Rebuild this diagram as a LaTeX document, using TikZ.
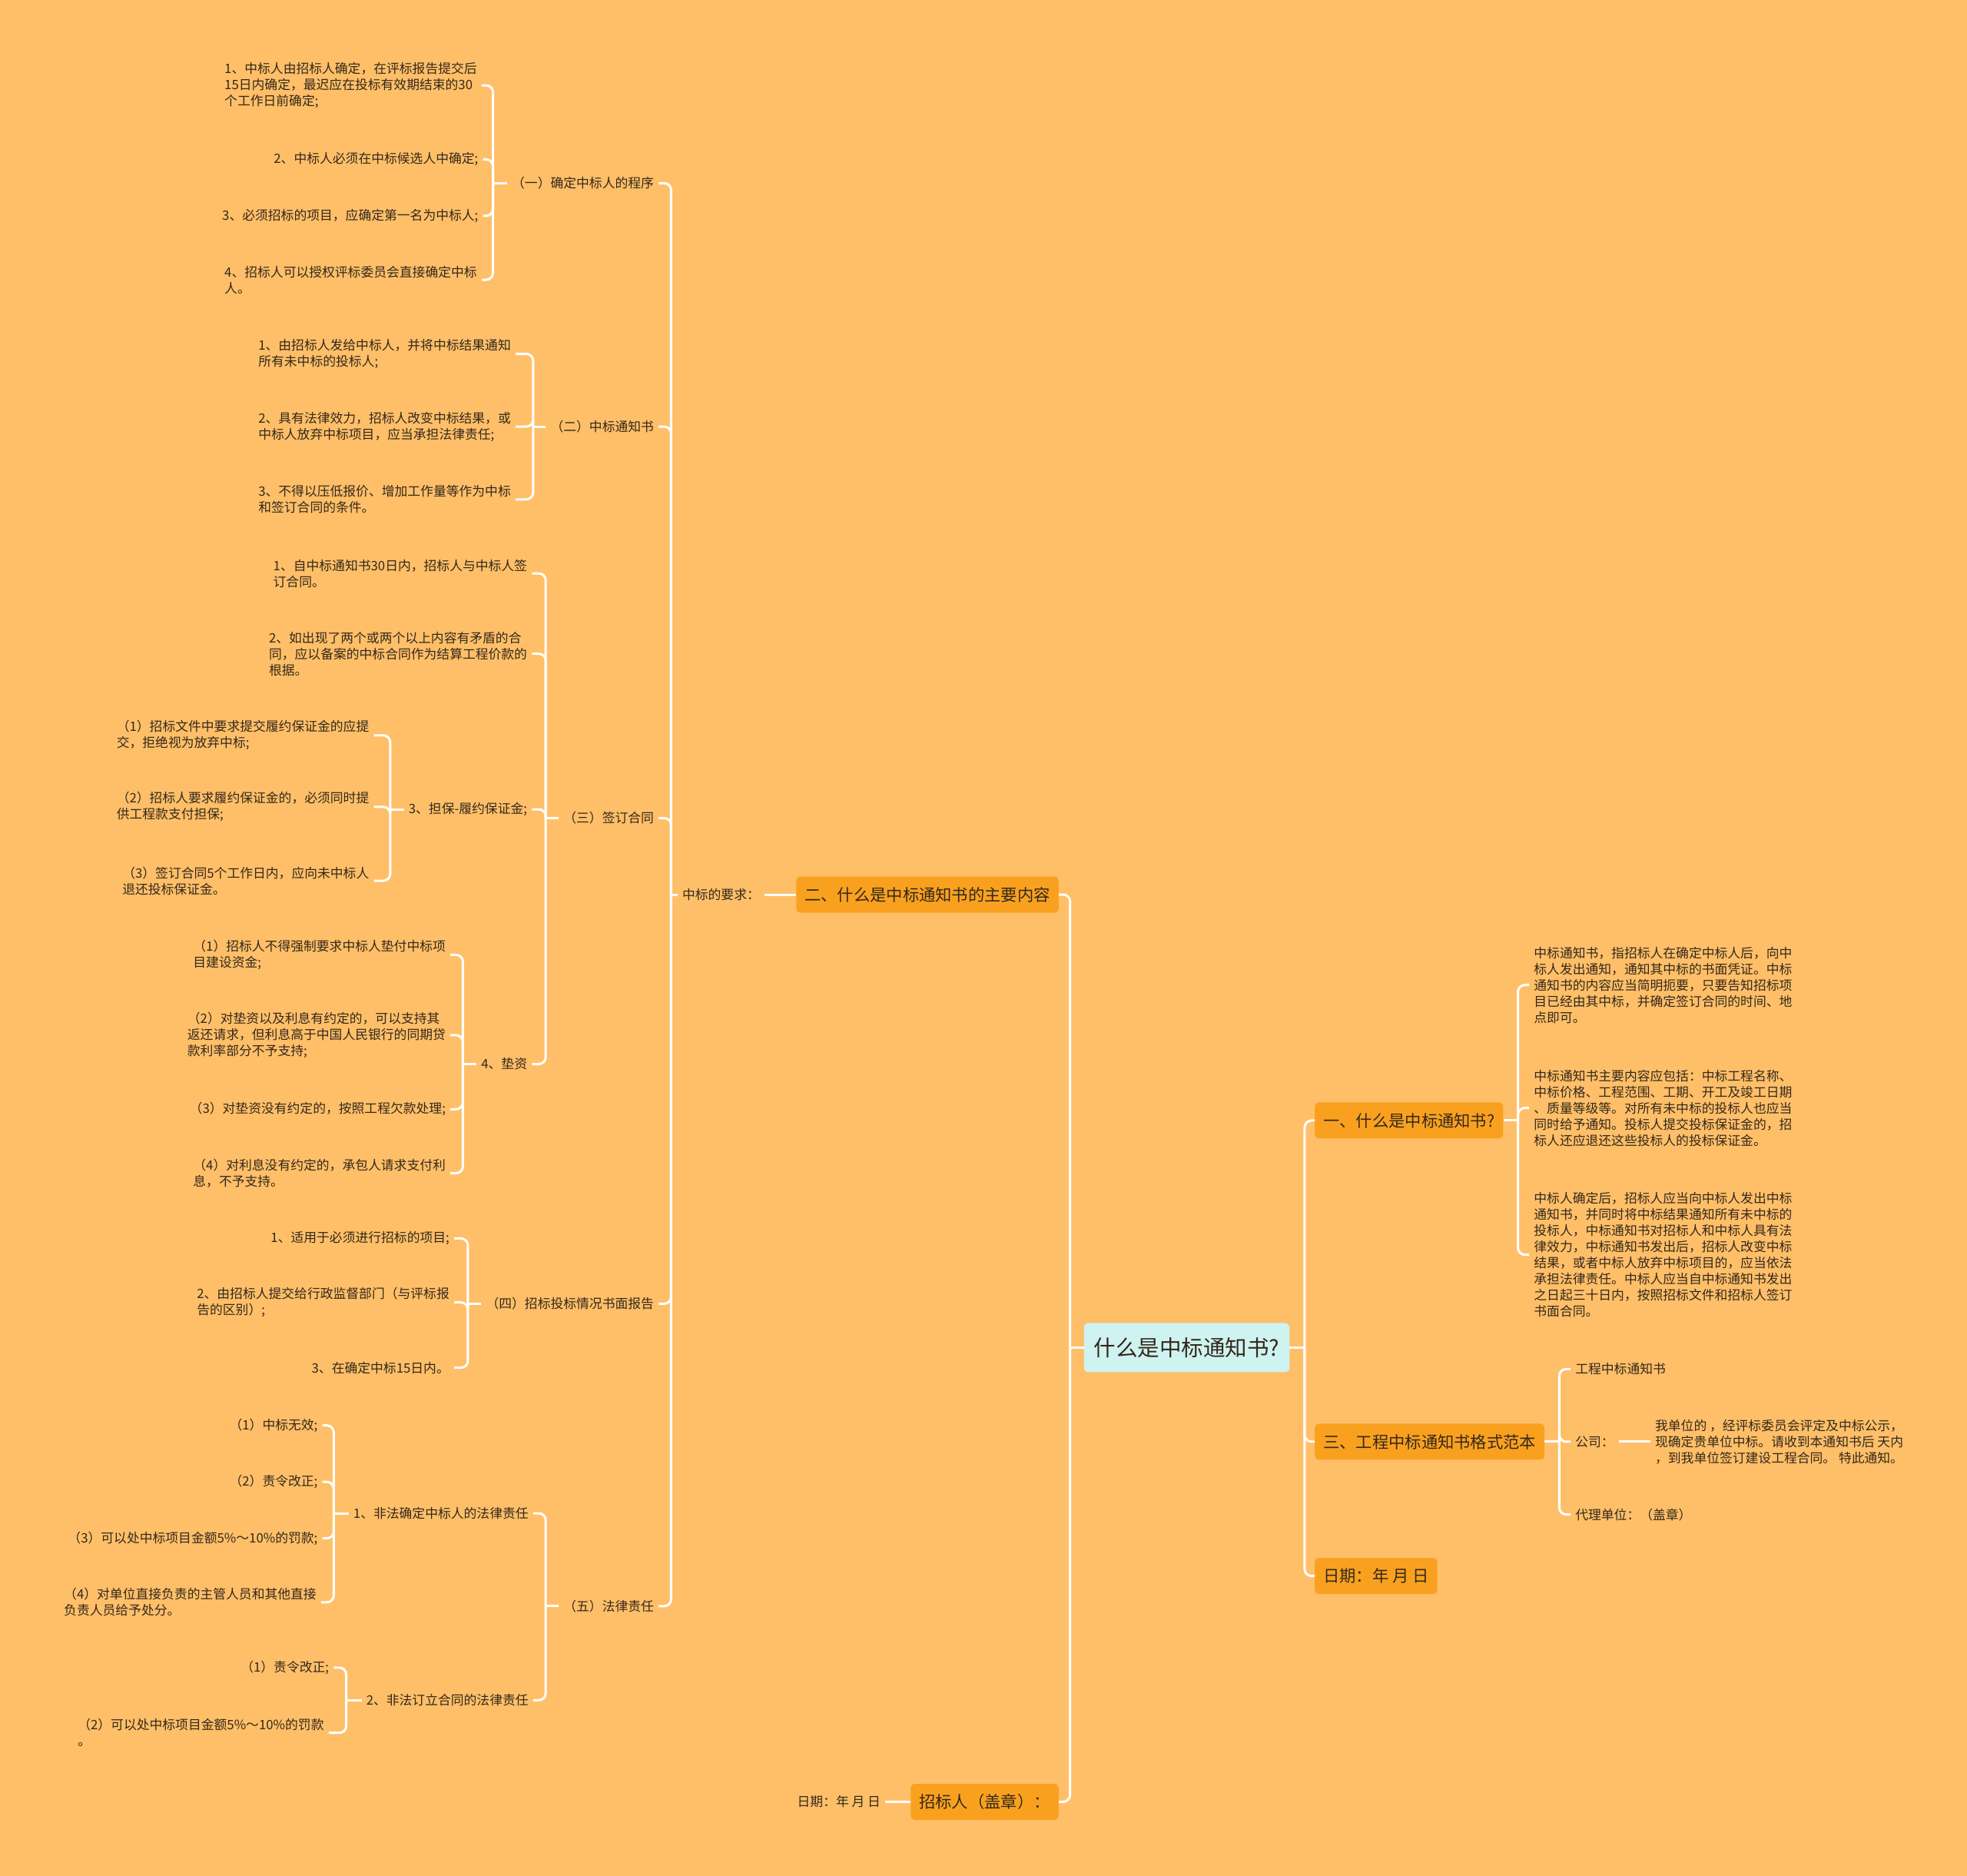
\documentclass[tikz,border=0pt]{standalone}
\usepackage{fontspec}
\setmainfont{Noto Sans CJK SC}
\usepackage{tikz}
\usetikzlibrary{positioning}
\definecolor{bgc}{HTML}{FFBF69}
\definecolor{mainc}{HTML}{F9A11F}
\definecolor{rootc}{HTML}{CEF3F1}
\definecolor{inkc}{HTML}{33281A}
\tikzset{
    topic/.style={
           rectangle, rounded corners=6pt,
           fill=rootc,
           text=inkc,
           inner xsep=13pt,
           minimum height=64pt,
           font=\fontsize{28.5pt}{34pt}\selectfont,
           },
}
\tikzset{
    branch/.style={
           rectangle, rounded corners=5pt,
           fill=mainc,
           text=inkc,
           inner xsep=11pt,
           minimum height=47pt,
           font=\fontsize{21.3pt}{26pt}\selectfont,
           },
}
\tikzset{
    leaf/.style={
           text=inkc,
           align=left,
           inner xsep=6pt, inner ysep=2pt,
           font=\fontsize{16.8pt}{21pt}\selectfont,
           },
}
\tikzset{
    wire/.style={
           draw=white, line width=3pt,
           },
}
\tikzset{
    twig/.style={
           wire, rounded corners=9pt,
           },
}

\begin{document}
\begin{tikzpicture}[x=1.6327pt,y=-1.6327pt]
\fill[bgc] (0,0) rectangle (1568,1495);
\useasboundingbox (0,0) rectangle (1568,1495);

\node[topic](root) at (946,1074){什么是中标通知书?};
\node[branch,anchor=east](L2) at (844,713){二、什么是中标通知书的主要内容};
\node[branch,anchor=east](L3) at (844,1436){招标人（盖章）：};
\node[leaf,left=41pt of L2](req){中标的要求：};
\node[leaf,left=33pt of L3](sign){日期：年 月 日};

\node[leaf,anchor=east](s1) at (525,146){（一）确定中标人的程序};
\node[leaf,anchor=east](s2) at (525,340){（二）中标通知书};
\node[leaf,anchor=east](s3) at (525,652){（三）签订合同};
\node[leaf,anchor=east](s4) at (525,1039){（四）招标投标情况书面报告};
\node[leaf,anchor=east](s5) at (525,1280){（五）法律责任};

\node[leaf,anchor=east](a1) at (384,68){1、中标人由招标人确定，在评标报告提交后\\15日内确定，最迟应在投标有效期结束的30\\个工作日前确定;};
\node[leaf,anchor=east](a2) at (385,127){2、中标人必须在中标候选人中确定;};
\node[leaf,anchor=east](a3) at (385,172){3、必须招标的项目，应确定第一名为中标人;};
\node[leaf,anchor=east](a4) at (384,223){4、招标人可以授权评标委员会直接确定中标\\人。};

\node[leaf,anchor=east](b1) at (411,282){1、由招标人发给中标人，并将中标结果通知\\所有未中标的投标人;};
\node[leaf,anchor=east](b2) at (411,340){2、具有法律效力，招标人改变中标结果，或\\中标人放弃中标项目，应当承担法律责任;};
\node[leaf,anchor=east](b3) at (411,398){3、不得以压低报价、增加工作量等作为中标\\和签订合同的条件。};

\node[leaf,anchor=east](c1) at (424,457){1、自中标通知书30日内，招标人与中标人签\\订合同。};
\node[leaf,anchor=east](c2) at (424,521){2、如出现了两个或两个以上内容有矛盾的合\\同，应以备案的中标合同作为结算工程价款的\\根据。};
\node[leaf,anchor=east](c3) at (424,645){3、担保-履约保证金;};
\node[leaf,anchor=east](c4) at (424,848){4、垫资};

\node[leaf,anchor=east](d1) at (298,586){（1）招标文件中要求提交履约保证金的应提\\交，拒绝视为放弃中标;};
\node[leaf,anchor=east](d2) at (298,643){（2）招标人要求履约保证金的，必须同时提\\供工程款支付担保;};
\node[leaf,anchor=east](d3) at (298,702){（3）签订合同5个工作日内，应向未中标人\\退还投标保证金。};

\node[leaf,anchor=east](e1) at (359,761){（1）招标人不得强制要求中标人垫付中标项\\目建设资金;};
\node[leaf,anchor=east](e2) at (359,825){（2）对垫资以及利息有约定的，可以支持其\\返还请求，但利息高于中国人民银行的同期贷\\款利率部分不予支持;};
\node[leaf,anchor=east](e3) at (359,884){（3）对垫资没有约定的，按照工程欠款处理;};
\node[leaf,anchor=east](e4) at (359,935){（4）对利息没有约定的，承包人请求支付利\\息，不予支持。};

\node[leaf,anchor=east](f1) at (362,987){1、适用于必须进行招标的项目;};
\node[leaf,anchor=east](f2) at (362,1038){2、由招标人提交给行政监督部门（与评标报\\告的区别）;};
\node[leaf,anchor=east](f3) at (362,1090){3、在确定中标15日内。};

\node[leaf,anchor=east](g1) at (425,1206){1、非法确定中标人的法律责任};
\node[leaf,anchor=east](g2) at (425,1355){2、非法订立合同的法律责任};

\node[leaf,anchor=east](h1) at (257,1136){（1）中标无效;};
\node[leaf,anchor=east](h2) at (257,1181){（2）责令改正;};
\node[leaf,anchor=east](h3) at (257,1226){（3）可以处中标项目金额5\%～10\%的罚款;};
\node[leaf,anchor=east](h4) at (256,1277){（4）对单位直接负责的主管人员和其他直接\\负责人员给予处分。};

\node[leaf,anchor=east](i1) at (266,1329){（1）责令改正;};
\node[leaf,anchor=east](i2) at (262,1381){（2）可以处中标项目金额5\%～10\%的罚款\\。};

\node[branch,anchor=west](R1) at (1048,893){一、什么是中标通知书?};
\node[branch,anchor=west](R3) at (1048,1149){三、工程中标通知书格式范本};
\node[branch,anchor=west](R4) at (1048,1256){日期：年 月 日};

\node[leaf,anchor=west](j1) at (1219,785){中标通知书，指招标人在确定中标人后，向中\\标人发出通知，通知其中标的书面凭证。中标\\通知书的内容应当简明扼要，只要告知招标项\\目已经由其中标，并确定签订合同的时间、地\\点即可。};
\node[leaf,anchor=west](j2) at (1219,883){中标通知书主要内容应包括：中标工程名称、\\中标价格、工程范围、工期、开工及竣工日期\\、质量等级等。对所有未中标的投标人也应当\\同时给予通知。投标人提交投标保证金的，招\\标人还应退还这些投标人的投标保证金。};
\node[leaf,anchor=west](j3) at (1219,1000){中标人确定后，招标人应当向中标人发出中标\\通知书，并同时将中标结果通知所有未中标的\\投标人，中标通知书对招标人和中标人具有法\\律效力，中标通知书发出后，招标人改变中标\\结果，或者中标人放弃中标项目的，应当依法\\承担法律责任。中标人应当自中标通知书发出\\之日起三十日内，按照招标文件和招标人签订\\书面合同。};

\node[leaf,anchor=west](k1) at (1252,1091){工程中标通知书};
\node[leaf,anchor=west](k2) at (1252,1149){公司：};
\node[leaf,anchor=west](k3) at (1252,1207){代理单位：（盖章）};
\node[leaf,right=41pt of k2](k4){我单位的 ，经评标委员会评定及中标公示，\\现确定贵单位中标。请收到本通知书后 天内\\，到我单位签订建设工程合同。 特此通知。};

\coordinate (rl) at (853,1074);
\coordinate (rr) at (1040,1074);
\coordinate (tq) at (535,713);
\coordinate (t1) at (393,146);
\coordinate (t2) at (425,340);
\coordinate (t3) at (435,652);
\coordinate (t4) at (373,1039);
\coordinate (t5) at (435,1280);
\coordinate (t6) at (311,645);
\coordinate (t7) at (369,848);
\coordinate (t8) at (266,1206);
\coordinate (t9) at (276,1355);
\coordinate (tr1) at (1210,893);
\coordinate (tr3) at (1243,1149);

\draw[wire] (root.west) -- (rl);
\draw[twig] (rl) |- (L2.east);
\draw[twig] (rl) |- (L3.east);
\draw[wire] (L2.west) -- (req.east);
\draw[wire] (L3.west) -- (sign.east);
\draw[wire] (req.west) -- (tq);
\draw[twig] (tq) |- (s1.east);
\draw[twig] (tq) |- (s2.east);
\draw[twig] (tq) |- (s3.east);
\draw[twig] (tq) |- (s4.east);
\draw[twig] (tq) |- (s5.east);
\draw[wire] (s1.west) -- (t1);
\draw[twig] (t1) |- (a1.east);
\draw[twig] (t1) |- (a2.east);
\draw[twig] (t1) |- (a3.east);
\draw[twig] (t1) |- (a4.east);
\draw[wire] (s2.west) -- (t2);
\draw[twig] (t2) |- (b1.east);
\draw[twig] (t2) |- (b2.east);
\draw[twig] (t2) |- (b3.east);
\draw[wire] (s3.west) -- (t3);
\draw[twig] (t3) |- (c1.east);
\draw[twig] (t3) |- (c2.east);
\draw[twig] (t3) |- (c3.east);
\draw[twig] (t3) |- (c4.east);
\draw[wire] (c3.west) -- (t6);
\draw[twig] (t6) |- (d1.east);
\draw[twig] (t6) |- (d2.east);
\draw[twig] (t6) |- (d3.east);
\draw[wire] (c4.west) -- (t7);
\draw[twig] (t7) |- (e1.east);
\draw[twig] (t7) |- (e2.east);
\draw[twig] (t7) |- (e3.east);
\draw[twig] (t7) |- (e4.east);
\draw[wire] (s4.west) -- (t4);
\draw[twig] (t4) |- (f1.east);
\draw[twig] (t4) |- (f2.east);
\draw[twig] (t4) |- (f3.east);
\draw[wire] (s5.west) -- (t5);
\draw[twig] (t5) |- (g1.east);
\draw[twig] (t5) |- (g2.east);
\draw[wire] (g1.west) -- (t8);
\draw[twig] (t8) |- (h1.east);
\draw[twig] (t8) |- (h2.east);
\draw[twig] (t8) |- (h3.east);
\draw[twig] (t8) |- (h4.east);
\draw[wire] (g2.west) -- (t9);
\draw[twig] (t9) |- (i1.east);
\draw[twig] (t9) |- (i2.east);

\draw[wire] (root.east) -- (rr);
\draw[twig] (rr) |- (R1.west);
\draw[twig] (rr) |- (R3.west);
\draw[twig] (rr) |- (R4.west);
\draw[wire] (R1.east) -- (tr1);
\draw[twig] (tr1) |- (j1.west);
\draw[twig] (tr1) |- (j2.west);
\draw[twig] (tr1) |- (j3.west);
\draw[wire] (R3.east) -- (tr3);
\draw[twig] (tr3) |- (k1.west);
\draw[twig] (tr3) |- (k2.west);
\draw[twig] (tr3) |- (k3.west);
\draw[wire] (k2.east) -- (k4.west);
\end{tikzpicture}
\end{document}
